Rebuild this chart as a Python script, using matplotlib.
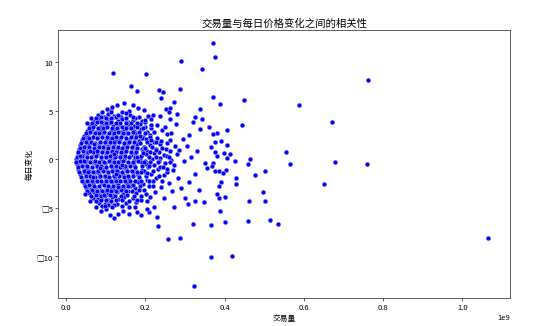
import numpy as np
import matplotlib
matplotlib.use("Agg")
import matplotlib.pyplot as plt
from matplotlib.ticker import FuncFormatter

plt.rcParams['font.family'] = ['Noto Sans CJK SC', 'DejaVu Sans']

# trading volume in millions, daily change
# upper part of the dense cloud
upper = [(80, 4.6), (96, 4.4), (107, 4.7), (121, 4.5), (139, 4.4), (161, 4.6), (184, 4.3), (206, 4.5),
         (71, 3.9), (83, 4.1), (93, 3.8), (107, 4.0), (117, 4.2), (131, 3.9), (142, 4.1), (157, 3.8),
         (169, 4.0), (191, 3.9), (214, 4.1),
         (61, 3.4), (73, 3.6), (85, 3.3), (95, 3.5), (109, 3.7), (119, 3.4), (133, 3.6), (145, 3.3),
         (156, 3.5), (171, 3.4), (186, 3.6), (199, 3.3), (229, 3.5),
         (52, 2.9), (65, 3.1), (75, 2.8), (89, 3.0), (99, 3.2), (113, 2.9), (123, 3.1), (137, 2.8),
         (147, 3.0), (161, 3.2), (172, 2.9), (189, 3.1), (204, 2.8), (241, 3.0),
         (46, 2.4), (56, 2.6), (70, 2.5), (80, 2.3), (94, 2.7), (104, 2.4), (118, 2.6), (128, 2.3),
         (142, 2.5), (152, 2.7), (166, 2.4), (177, 2.6), (193, 2.3), (211, 2.5), (254, 2.6)]

middle = [(40, 2.0), (53, 2.1), (63, 1.9), (77, 2.2), (87, 1.8), (101, 2.0), (111, 2.2), (125, 1.9),
          (135, 2.1), (149, 1.8), (159, 2.0), (173, 2.2), (185, 1.9), (201, 2.1), (221, 1.8), (262, 2.0),
          (36, 1.5), (49, 1.4), (59, 1.6), (73, 1.3), (83, 1.5), (97, 1.7), (107, 1.4), (121, 1.6),
          (131, 1.3), (145, 1.5), (155, 1.7), (169, 1.4), (179, 1.6), (196, 1.3), (211, 1.5), (236, 1.6),
          (276, 1.4),
          (33, 1.0), (46, 1.1), (56, 0.9), (70, 1.2), (80, 0.8), (94, 1.0), (104, 1.2), (118, 0.9),
          (128, 1.1), (142, 0.8), (152, 1.0), (166, 1.2), (176, 0.9), (191, 1.1), (204, 0.8), (226, 1.0),
          (251, 1.1),
          (30, 0.5), (43, 0.4), (53, 0.6), (67, 0.3), (77, 0.5), (91, 0.7), (101, 0.4), (115, 0.6),
          (125, 0.3), (139, 0.5), (149, 0.7), (163, 0.4), (174, 0.6), (189, 0.3), (202, 0.5), (221, 0.6),
          (246, 0.4), (281, 0.5),
          (26, 0.0), (39, 0.1), (50, -0.1), (64, 0.2), (74, -0.2), (88, 0.0), (98, 0.2), (112, -0.1),
          (122, 0.1), (136, -0.2), (146, 0.0), (160, 0.2), (171, -0.1), (187, 0.1), (199, -0.2),
          (216, 0.0), (237, 0.1), (266, -0.1),
          (28, -0.5), (41, -0.4), (51, -0.6), (65, -0.3), (75, -0.5), (89, -0.7), (99, -0.4), (113, -0.6),
          (123, -0.3), (137, -0.5), (147, -0.7), (161, -0.4), (172, -0.6), (188, -0.3), (201, -0.5),
          (223, -0.6), (249, -0.4),
          (31, -1.0), (44, -1.1), (54, -0.9), (68, -1.2), (78, -0.8), (92, -1.0), (102, -1.2), (116, -0.9),
          (126, -1.1), (140, -0.8), (150, -1.0), (164, -1.2), (175, -0.9), (191, -1.1), (206, -0.8),
          (231, -1.0), (269, -1.1),
          (35, -1.5), (48, -1.4), (58, -1.6), (72, -1.3), (82, -1.5), (96, -1.7), (106, -1.4), (120, -1.6),
          (130, -1.3), (144, -1.5), (154, -1.7), (169, -1.4), (181, -1.6), (199, -1.3), (214, -1.5),
          (246, -1.6),
          (39, -2.0), (52, -2.1), (62, -1.9), (76, -2.2), (86, -1.8), (100, -2.0), (110, -2.2), (124, -1.9),
          (134, -2.1), (148, -1.8), (158, -2.0), (173, -2.2), (185, -1.9), (204, -2.1), (227, -1.9)]

lower = [(44, -2.5), (57, -2.4), (67, -2.6), (81, -2.3), (91, -2.5), (105, -2.7), (115, -2.4), (129, -2.6),
         (139, -2.3), (153, -2.5), (164, -2.7), (181, -2.4), (195, -2.6), (219, -2.3), (259, -2.5),
         (50, -3.0), (63, -3.1), (73, -2.9), (87, -3.2), (97, -2.8), (111, -3.0), (121, -3.2), (135, -2.9),
         (145, -3.1), (161, -2.8), (175, -3.0), (196, -3.2), (239, -2.9),
         (58, -3.5), (71, -3.4), (81, -3.6), (95, -3.3), (105, -3.5), (119, -3.7), (129, -3.4), (144, -3.6),
         (157, -3.3), (176, -3.5), (201, -3.6),
         (68, -4.0), (81, -4.1), (91, -3.9), (106, -4.2), (117, -3.9), (133, -4.1), (147, -3.9), (169, -4.0),
         (189, -4.2),
         (83, -4.5), (97, -4.6), (111, -4.4), (129, -4.6), (151, -4.5), (176, -4.4)]

# second layer in between, the cloud is packed solid
filler = [(76, 4.2), (88, 4.3), (101, 4.25), (114, 4.2), (127, 4.3), (150, 4.2), (175, 4.25),
          (66, 3.75), (78, 3.8), (90, 3.7), (101, 3.75), (113, 3.8), (125, 3.7), (137, 3.75), (150, 3.8),
          (163, 3.7), (178, 3.75), (200, 3.8),
          (57, 3.2), (69, 3.3), (80, 3.25), (92, 3.2), (104, 3.3), (116, 3.25), (128, 3.2), (140, 3.3),
          (152, 3.25), (165, 3.2), (179, 3.3), (195, 3.25), (215, 3.2),
          (49, 2.7), (60, 2.8), (72, 2.75), (84, 2.7), (96, 2.8), (108, 2.75), (120, 2.7), (132, 2.8),
          (144, 2.75), (156, 2.7), (169, 2.8), (183, 2.75), (199, 2.7), (222, 2.8),
          (43, 2.2), (55, 2.3), (67, 2.25), (79, 2.2), (91, 2.3), (103, 2.25), (115, 2.2), (127, 2.3),
          (139, 2.25), (151, 2.2), (163, 2.3), (177, 2.25), (192, 2.2), (212, 2.3),
          (38, 1.7), (50, 1.8), (62, 1.75), (74, 1.7), (86, 1.8), (98, 1.75), (110, 1.7), (122, 1.8),
          (134, 1.75), (146, 1.7), (158, 1.8), (171, 1.75), (186, 1.7), (204, 1.8), (228, 1.75),
          (34, 1.2), (46, 1.3), (58, 1.25), (70, 1.2), (82, 1.3), (94, 1.25), (106, 1.2), (118, 1.3),
          (130, 1.25), (142, 1.2), (154, 1.3), (166, 1.25), (180, 1.2), (197, 1.3), (216, 1.25), (242, 1.2),
          (31, 0.7), (43, 0.8), (55, 0.75), (67, 0.7), (79, 0.8), (91, 0.75), (103, 0.7), (115, 0.8),
          (127, 0.75), (139, 0.7), (151, 0.8), (163, 0.75), (177, 0.7), (194, 0.8), (212, 0.75), (234, 0.7),
          (262, 0.8),
          (28, 0.2), (40, 0.3), (52, 0.25), (64, 0.2), (76, 0.3), (88, 0.25), (100, 0.2), (112, 0.3),
          (124, 0.25), (136, 0.2), (148, 0.3), (160, 0.25), (174, 0.2), (190, 0.3), (208, 0.25), (228, 0.2),
          (255, 0.3),
          (24, -0.3), (36, -0.2), (48, -0.25), (60, -0.3), (72, -0.2), (84, -0.25), (96, -0.3), (108, -0.2),
          (120, -0.25), (132, -0.3), (144, -0.2), (156, -0.25), (168, -0.3), (182, -0.2), (196, -0.25),
          (212, -0.3), (235, -0.2), (262, -0.25),
          (29, -0.8), (41, -0.7), (53, -0.75), (65, -0.8), (77, -0.7), (89, -0.75), (101, -0.8), (113, -0.7),
          (125, -0.75), (137, -0.8), (149, -0.7), (161, -0.75), (175, -0.8), (192, -0.7), (210, -0.75),
          (236, -0.8),
          (33, -1.3), (45, -1.2), (57, -1.25), (69, -1.3), (81, -1.2), (93, -1.25), (105, -1.3), (117, -1.2),
          (129, -1.25), (141, -1.3), (153, -1.2), (166, -1.25), (180, -1.3), (197, -1.2), (220, -1.25),
          (255, -1.3),
          (37, -1.8), (49, -1.7), (61, -1.75), (73, -1.8), (85, -1.7), (97, -1.75), (109, -1.8), (121, -1.7),
          (133, -1.75), (145, -1.8), (157, -1.7), (170, -1.75), (185, -1.8), (202, -1.7), (235, -1.75),
          (41, -2.3), (53, -2.2), (65, -2.25), (77, -2.3), (89, -2.2), (101, -2.25), (113, -2.3), (125, -2.2),
          (137, -2.25), (149, -2.3), (161, -2.2), (175, -2.25), (190, -2.3), (210, -2.2),
          (47, -2.8), (59, -2.7), (71, -2.75), (83, -2.8), (95, -2.7), (107, -2.75), (119, -2.8), (131, -2.7),
          (143, -2.75), (156, -2.8), (170, -2.7), (186, -2.75), (208, -2.8),
          (54, -3.3), (66, -3.2), (78, -3.25), (90, -3.3), (102, -3.2), (114, -3.25), (126, -3.3), (139, -3.2),
          (152, -3.25), (167, -3.3), (185, -3.2),
          (63, -3.8), (75, -3.7), (87, -3.75), (99, -3.8), (111, -3.7), (124, -3.75), (138, -3.8), (153, -3.7),
          (172, -3.75),
          (75, -4.3), (88, -4.2), (100, -4.25), (113, -4.3), (126, -4.2), (141, -4.25), (158, -4.3), (180, -4.2),
          (90, -4.8), (105, -4.7), (122, -4.75), (140, -4.8)]

# the thinning tail of the cloud and its ragged edge
tail = [(185, 2.8), (195, 0.6), (205, -1.4), (215, 2.0), (220, -2.8), (228, 0.9), (232, -0.3), (240, 1.9),
        (243, -2.2), (250, 3.3), (255, -1.0), (260, 0.2), (265, 2.7), (268, -3.3), (272, -0.6), (278, 3.6),
        (283, -1.9), (286, 0.9), (290, -3.0), (295, 2.1), (298, -0.2), (300, -4.0), (305, 1.4), (310, -2.4),
        (315, 0.2), (320, 3.8), (325, -1.5), (330, 0.8), (335, -3.2), (262, 4.1), (248, -4.0), (238, 4.5),
        (182, 5.3), (170, 5.6), (145, 5.8), (128, 5.6), (103, 5.2), (90, 4.9), (62, 4.2), (52, 3.7),
        (48, -3.6), (60, -4.3), (75, -4.9), (88, -5.3), (160, -5.6), (175, -4.9), (213, -3.9), (200, 4.0),
        (188, -1.3), (186, 2.4)]

scattered = [(58, 2.2), (88, 3.8), (114, 5.1), (100, -5.1), (68, -1.8), (45, -0.2), (140, 4.9), (160, -4.9),
             (60, 0.8), (85, -0.9), (110, 1.8), (130, -2.9), (150, 3.7), (95, -3.7), (70, 1.6), (125, -1.5),
             (180, 0.2), (200, 1.2), (210, -2.2), (230, 2.2), (245, -0.8), (255, 1.7), (170, 4.4),
             (190, -3.8), (215, 3.5), (225, -3.4), (55, -1.3), (35, 0.3), (120, 0.5), (140, -0.6),
             (119, 8.9), (202, 8.75), (165, 7.55), (180, 7.0), (234, 7.1), (245, 6.9), (240, 6.35),
             (273, 5.9), (117, 5.4), (113, 4.9), (158, 5.0), (150, 4.75), (196, 5.05), (220, 4.6),
             (253, 5.2), (263, 5.25), (259, 4.85), (279, 4.65), (132, 4.55),
             (258, -8.2), (231, -6.9), (230, -6.0), (273, -4.9), (122, -6.05), (111, -5.8), (132, -5.7),
             (144, -5.3), (117, -4.95), (99, -4.8), (178, -5.4), (190, -5.75), (210, -5.4), (223, -4.9),
             (203, -5.15), (205, -4.35)]

outliers = [(371, 12.0), (375, 10.5), (290, 10.1), (342, 9.35), (762, 8.2), (288, 7.2), (370, 6.45),
            (389, 5.7), (449, 6.1), (587, 5.6), (339, 5.15), (326, 4.35), (343, 4.1), (670, 3.85),
            (444, 3.5), (361, 3.35), (405, 3.0), (338, 3.1), (380, 2.65), (372, 2.55), (310, 2.5),
            (392, 1.9), (377, 1.75), (407, 1.5), (367, 1.25), (556, 0.75), (375, 0.7), (398, 0.6),
            (414, 0.5), (405, 0.15), (381, 0.35), (465, 0.05), (427, -0.15), (565, -0.5), (678, -0.3),
            (760, -0.45), (458, -0.5), (372, -0.35), (350, -0.35), (369, -0.75), (355, -0.9),
            (404, -1.1), (375, -1.2), (386, -1.25), (396, -1.4), (503, -1.25), (476, -1.65), (429, -1.9),
            (650, -2.6), (428, -2.55), (392, -2.35), (387, -2.75), (497, -3.35), (381, -3.6), (385, -4.0),
            (402, -3.9), (462, -4.35), (503, -4.35), (389, -5.3), (459, -6.4), (514, -6.25), (534, -6.7),
            (402, -6.5), (366, -6.8), (321, -6.7), (288, -8.1), (366, -10.1), (419, -10.0), (325, -4.35),
            (347, -4.45), (307, -4.6), (1066, -8.1), (322, -13.1)]

pts = np.array(upper + middle + lower + filler + tail + scattered + outliers, dtype=float)
volume = pts[:, 0] * 1e6
change = pts[:, 1]

fig = plt.figure(figsize=(10, 5.9), dpi=55.4)
ax = fig.add_axes([0.105, 0.086, 0.816, 0.819])
ax.scatter(volume, change, s=40, c='blue', edgecolors='white', linewidths=0.5)

ax.set_xlim(-0.02e9, 1.121e9)
ax.set_ylim(-14.3, 13.3)
ax.set_yticks([-10, -5, 0, 5, 10])
ax.yaxis.set_major_formatter(FuncFormatter(lambda v, p: ('\u25a1' + str(int(-v))) if v < 0 else str(int(v))))

ax.set_title('交易量与每日价格变化之间的相关性', fontsize=13.5)
ax.set_xlabel('交易量')
ax.set_ylabel('每日变化')

fig.savefig('out.png', dpi=55.4)
